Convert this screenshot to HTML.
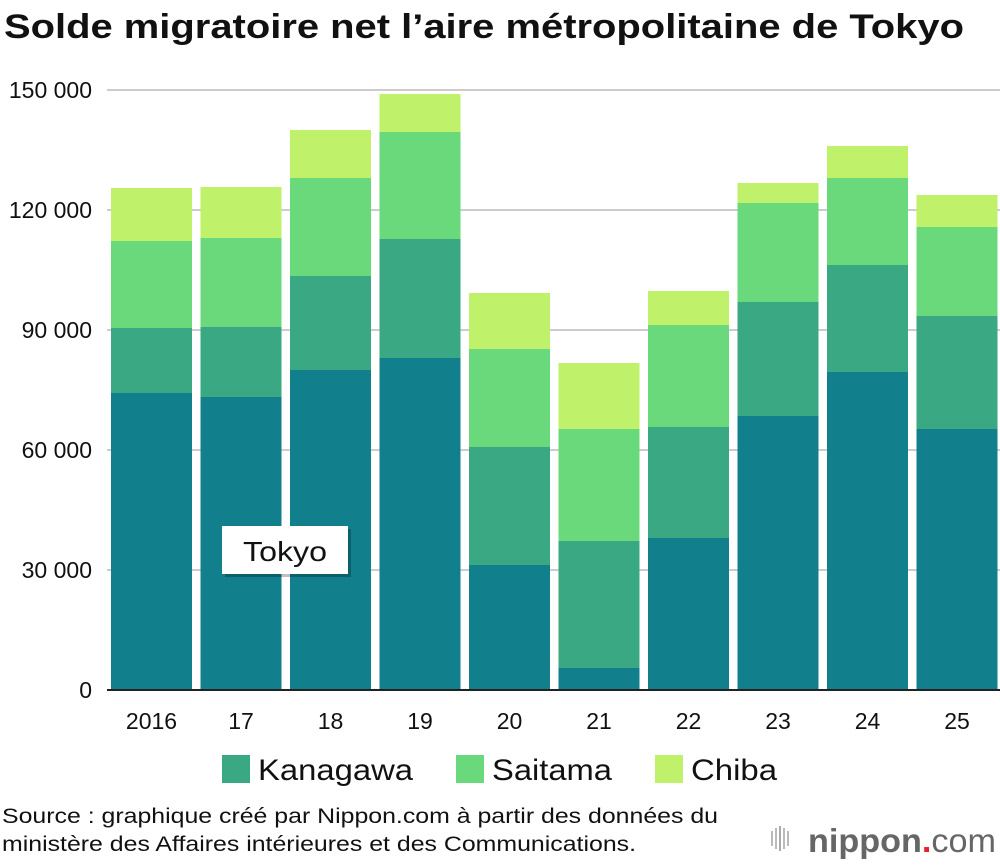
<!DOCTYPE html>
<html><head><meta charset="utf-8"><style>
body{margin:0;width:1000px;height:862px;background:#fff;font-family:"Liberation Sans",sans-serif;overflow:hidden}
</style></head><body>
<svg width="1000" height="862" xmlns="http://www.w3.org/2000/svg" id="svg">
<text x="4" y="38" font-size="34" font-weight="bold" fill="#111" textLength="960" lengthAdjust="spacingAndGlyphs">Solde migratoire net l’aire métropolitaine de Tokyo</text>
<g id="grid"></g><g id="bars"></g><g id="labels"></g>
<g>
<rect x="225" y="529" width="126" height="48" fill="#000" opacity="0.25"/>
<rect x="222" y="526" width="126" height="48" fill="#fff"/>
<text x="285" y="561" font-size="28" text-anchor="middle" fill="#111" textLength="84" lengthAdjust="spacingAndGlyphs">Tokyo</text>
</g>
<g>
<rect x="222" y="755" width="28" height="28" fill="#3aa882"/>
<text x="258" y="780" font-size="30" fill="#111" textLength="155" lengthAdjust="spacingAndGlyphs">Kanagawa</text>
<rect x="456" y="755" width="28" height="28" fill="#6ad97c"/>
<text x="492" y="780" font-size="30" fill="#111" textLength="120" lengthAdjust="spacingAndGlyphs">Saitama</text>
<rect x="655" y="755" width="28" height="28" fill="#bff26a"/>
<text x="691" y="780" font-size="30" fill="#111" textLength="86" lengthAdjust="spacingAndGlyphs">Chiba</text>
</g>
<text x="2" y="823" font-size="21" fill="#111" textLength="716" lengthAdjust="spacingAndGlyphs">Source : graphique créé par Nippon.com à partir des données du</text>
<text x="2" y="851" font-size="21" fill="#111" textLength="634" lengthAdjust="spacingAndGlyphs">ministère des Affaires intérieures et des Communications.</text>
<g>
<rect x="771" y="831" width="2" height="15" fill="#bbb"/><rect x="775" y="828" width="2" height="21" fill="#bbb"/><rect x="779" y="826" width="2" height="25" fill="#aaa"/><rect x="783" y="828" width="2" height="21" fill="#bbb"/><rect x="787" y="831" width="2" height="15" fill="#bbb"/>
<text x="808" y="852" font-size="33" fill="#666" font-weight="bold" textLength="188" lengthAdjust="spacingAndGlyphs">nippon<tspan fill="#e8202a">.</tspan><tspan font-weight="normal">com</tspan></text>
</g>
</svg>
<script>
const years=["2016","17","18","19","20","21","22","23","24","25"];
const tokyo=[74250,73250,80000,83000,31250,5500,38000,68500,79500,65250];
const kanagawa=[16250,17500,23500,29750,29500,31750,27750,28500,26750,28250];
const saitama=[21750,22250,24500,26750,24500,28000,25500,24750,21750,22250];
const chiba=[13250,12750,12000,9500,14000,16500,8500,5000,8000,8000];
const ticks=[0,30000,60000,90000,120000,150000];
const tickLabels=["0","30 000","60 000","90 000","120 000","150 000"];
const NS="http://www.w3.org/2000/svg";
const y=v=>690-v*600/150000;
const x=i=>111+i*89.5;
const bw=81;
const g=document.getElementById('grid'),b=document.getElementById('bars'),l=document.getElementById('labels');
function mk(t,a,p){const e=document.createElementNS(NS,t);for(const k in a)e.setAttribute(k,a[k]);p.appendChild(e);return e;}
ticks.forEach((t,i)=>{
 const ln=mk('line',{x1:107,x2:1000,y1:y(t),y2:y(t),stroke:t===0?'#222':'#ccc','stroke-width':2},g);
 
 
 const tx=mk('text',{x:92,y:y(t)+8,'font-size':23,'text-anchor':'end',fill:'#111'},l);
 tx.textContent=tickLabels[i];
 
 
});
const series=[[tokyo,'#11808c','tokyo'],[kanagawa,'#3aa882','kanagawa'],[saitama,'#6ad97c','saitama'],[chiba,'#bff26a','chiba']];
years.forEach((yr,i)=>{
 let c=0;
 series.forEach(([arr,col,nm])=>{
  const r=mk('rect',{x:x(i),y:y(c+arr[i]),width:bw,height:y(c)-y(c+arr[i]),fill:col},b);
  
  
  c+=arr[i];
 });
 const tx=mk('text',{x:x(i)+bw/2,y:729,'font-size':23,'text-anchor':'middle',fill:'#111'},l);
 tx.textContent=yr;
 
 
});
mk('line',{x1:107,x2:1000,y1:690,y2:690,stroke:'#222','stroke-width':2},b);
</script>
</body></html>
